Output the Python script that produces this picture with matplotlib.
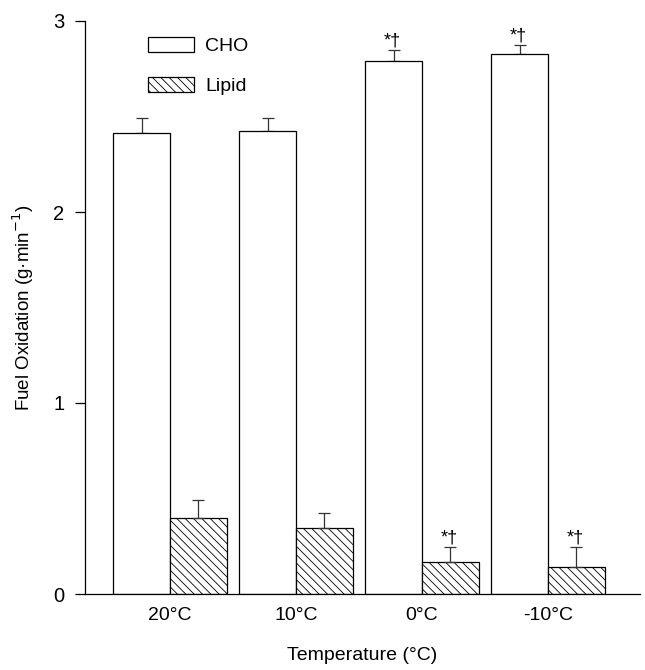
import matplotlib
matplotlib.use("Agg")
import matplotlib.pyplot as plt
from matplotlib.patches import Patch
import numpy as np

plt.rcParams['font.family'] = ['Liberation Sans', 'DejaVu Sans']
plt.rcParams['hatch.linewidth'] = 0.6

categories = ["20°C", "10°C", "0°C", "-10°C"]
cho = [2.415, 2.425, 2.79, 2.825]
cho_err = [0.075, 0.065, 0.058, 0.05]
lipid = [0.40, 0.345, 0.165, 0.14]
lipid_err = [0.09, 0.078, 0.08, 0.105]
cho_sig = ["", "", "*†", "*†"]
lipid_sig = ["", "", "*†", "*†"]

fig = plt.figure(figsize=(6.45, 6.7), dpi=100)
ax = fig.add_axes([85/645, 76/670, 555/645, 573/670])

x = np.arange(len(categories))
w = 0.45
ax.bar(x - w/2, cho, w, facecolor='white', edgecolor='black', linewidth=0.9, label='CHO', zorder=2)
ax.bar(x + w/2, lipid, w, facecolor='white', edgecolor='black', linewidth=0.9, hatch='\\\\\\\\', label='Lipid', zorder=2)

ax.errorbar(x - w/2, cho, yerr=[np.zeros(len(cho)), cho_err], fmt='none', ecolor='#333333',
            elinewidth=0.9, capsize=4, capthick=0.9, zorder=1)
ax.errorbar(x + w/2, lipid, yerr=[np.zeros(len(lipid)), lipid_err], fmt='none', ecolor='#333333',
            elinewidth=0.9, capsize=4, capthick=0.9, zorder=3)

for xi, v, e, s in zip(x - w/2, cho, cho_err, cho_sig):
    if s:
        ax.annotate(s, (xi, v + e), xytext=(-1, 0.5), textcoords='offset points',
                    ha='center', va='bottom', fontsize=13)
for xi, v, e, s in zip(x + w/2, lipid, lipid_err, lipid_sig):
    if s:
        ax.annotate(s, (xi, v + e), xytext=(-1, 0.5), textcoords='offset points',
                    ha='center', va='bottom', fontsize=13)

ax.set_xlim(-0.675, 3.73)
ax.set_ylim(0, 3)
ax.set_yticks([0, 1, 2, 3])
ax.set_xticks(x)
ax.set_xticklabels(categories, fontsize=14)
ax.tick_params(axis='x', length=0, pad=9)
ax.tick_params(axis='y', length=7, width=0.9, direction='out', labelsize=14.5, pad=8)
ax.spines['top'].set_visible(False)
ax.spines['right'].set_visible(False)
for sp in ['left', 'bottom']:
    ax.spines[sp].set_linewidth(0.9)

ax.set_xlabel("Temperature (°C)", fontsize=14, labelpad=17)
ax.set_ylabel("Fuel Oxidation (g·min$^{-1}$)", fontsize=13.5, labelpad=12)

handles = [Patch(facecolor='white', edgecolor='black', linewidth=0.9),
           Patch(facecolor='white', edgecolor='black', linewidth=0.9, hatch='\\\\\\\\')]
ax.legend(handles, ['CHO', 'Lipid'], loc='upper left', bbox_to_anchor=(0.1135, 0.972),
          frameon=False, fontsize=14, handlelength=2.37, handleheight=0.77,
          handletextpad=0.57, labelspacing=1.15, borderpad=0, borderaxespad=0)

fig.savefig("out.png", dpi=100)
